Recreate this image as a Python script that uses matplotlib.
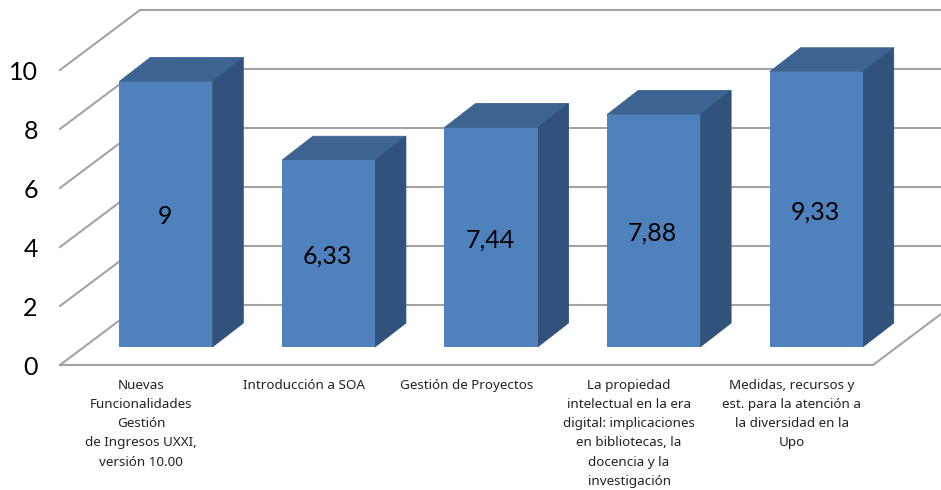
#!/usr/bin/env python3
"""Pseudo-3D column chart of course ratings."""
import matplotlib
matplotlib.use('Agg')
import matplotlib.pyplot as plt
from matplotlib.patches import Polygon

# data
categories = [
    'Nuevas\nFuncionalidades\nGestión\nde Ingresos UXXI,\nversión 10.00',
    'Introducción a SOA',
    'Gestión de Proyectos',
    'La propiedad\nintelectual en la era\ndigital: implicaciones\nen bibliotecas, la\ndocencia y la\ninvestigación',
    'Medidas, recursos y\nest. para la atención a\nla diversidad en la\nUpo',
]
values = [9, 6.33, 7.44, 7.88, 9.33]
y_ticks = [0, 2, 4, 6, 8, 10]

# colours
FRONT = '#4f81bd'
TOP = '#3d6392'
SIDE = '#31527b'
GRID = '#a3a3a3'

W, H = 941, 490
X0, X1 = 60, 873        # floor front edge, pixels
Y0, Y10 = 365, 70       # value 0 and 10 on the front edge, pixels
PX = (X1 - X0) / len(values)
PY = (Y0 - Y10) / 10

# depth expressed in data units
WALL_DX, WALL_DY = 80 / PX, 60 / PY
BAR_DX, BAR_DY = 31 / PX, 24 / PY
BAR_SHIFT, BAR_LIFT = 24.5 / PX, 18 / PY
BAR_W = 93 / PX

fig = plt.figure(figsize=(W / 100, H / 100), dpi=100)
ax = fig.add_axes([X0 / W, 1 - Y0 / H, (X1 - X0) / W, (Y0 - Y10) / H])
ax.set_xlim(0, len(values))
ax.set_ylim(0, 10)
ax.patch.set_visible(False)
for s in ax.spines.values():
    s.set_visible(False)

# walls + grid
far = len(values) + 1
for t in y_ticks:
    ax.plot([0, WALL_DX, far], [t, t + WALL_DY, t + WALL_DY], color=GRID,
            lw=1.5, clip_on=False, zorder=1, solid_joinstyle='miter')
ax.plot([0, len(values), len(values) + 1.3 * WALL_DX], [0, 0, 1.3 * WALL_DY],
        color=GRID, lw=1.5, clip_on=False, zorder=1, solid_joinstyle='miter')

# columns
xs = [i + 0.5 + BAR_SHIFT for i in range(len(values))]
ax.bar(xs, values, width=BAR_W, bottom=BAR_LIFT, color=FRONT, zorder=4, clip_on=False)
for x, v in zip(xs, values):
    l, r = x - BAR_W / 2, x + BAR_W / 2
    b, t = BAR_LIFT, BAR_LIFT + v
    # faces get a thin edge of their own colour so no light seam shows at the joins
    ax.add_patch(Polygon([(l, t), (r, t), (r + BAR_DX, t + BAR_DY), (l + BAR_DX, t + BAR_DY)],
                         facecolor=TOP, edgecolor=TOP, lw=0.6, zorder=3, clip_on=False))
    ax.add_patch(Polygon([(r, b), (r + BAR_DX, b + BAR_DY), (r + BAR_DX, t + BAR_DY), (r, t)],
                         facecolor=SIDE, edgecolor=SIDE, lw=0.6, zorder=3, clip_on=False))
    ax.text(x - 1 / PX, b + v / 2 - 2.5 / PY, f'{v}'.replace('.', ','), ha='center', va='center',
            fontsize=18, family='Lato', color='black', zorder=5)

# axis labels
ax.set_yticks(y_ticks)
ax.set_yticklabels([str(t) for t in y_ticks], fontsize=18, family='Lato')
ax.tick_params(axis='y', length=0, pad=16)
ax.set_xticks([i + 0.5 for i in range(len(values))])
ax.set_xticklabels(categories, fontsize=9.7, family='Noto Sans', linespacing=1.62,
                   color='#222222')
ax.tick_params(axis='x', length=0, pad=10)

fig.savefig('out.png', dpi=100, facecolor='white')
